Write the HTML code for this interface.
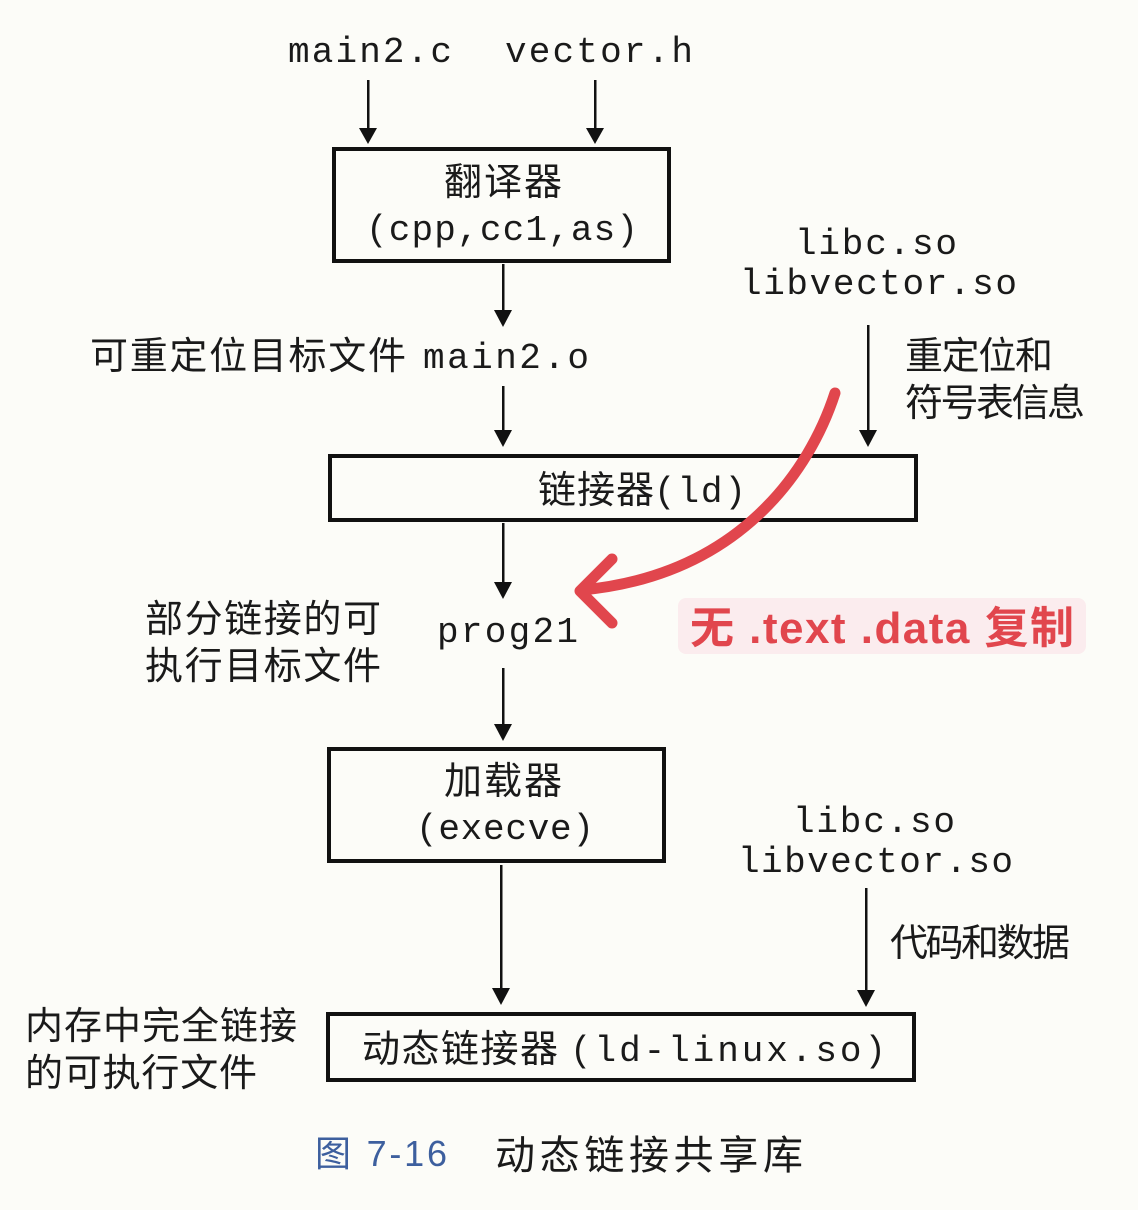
<!DOCTYPE html>
<html><head><meta charset="utf-8"><style>
html,body{margin:0;padding:0;background:#fcfcf8;}
svg{display:block}
.m{font-family:"Liberation Mono",monospace;font-size:36px;fill:#1a1a1a}
.c{font-family:"Liberation Sans","Noto Sans CJK SC",sans-serif;font-size:38px;fill:#1a1a1a}
</style></head><body>
<svg width="1138" height="1210" viewBox="0 0 1138 1210" xmlns="http://www.w3.org/2000/svg">
<g fill="#111">
<rect x="367" y="80" width="2.5" height="52"/><path d="M359 128 L377 128 L368 144 z"/>
<rect x="594" y="80" width="2.5" height="52"/><path d="M586 128 L604 128 L595 144 z"/>
<rect x="502" y="264" width="2.5" height="50"/><path d="M494 310 L512 310 L503 327 z"/>
<rect x="502" y="386" width="2.5" height="48"/><path d="M494 430 L512 430 L503 447 z"/>
<rect x="867" y="325" width="2.5" height="110"/><path d="M859 430 L877 430 L868 447 z"/>
<rect x="502" y="523" width="2.5" height="62"/><path d="M494 582 L512 582 L503 599 z"/>
<rect x="502" y="668" width="2.5" height="60"/><path d="M494 724 L512 724 L503 741 z"/>
<rect x="500" y="865" width="2.5" height="125"/><path d="M492 988 L510 988 L501 1005 z"/>
<rect x="865" y="888" width="2.5" height="103"/><path d="M857 990 L875 990 L866 1007 z"/>
</g>
<g fill="none" stroke="#111" stroke-width="4">
<rect x="334" y="149" width="335" height="112"/>
<rect x="330" y="456" width="586" height="64"/>
<rect x="329" y="749" width="335" height="112"/>
<rect x="328" y="1014" width="586" height="66"/>
</g>
<text class="m" x="288" y="62" textLength="164">main2.c</text>
<text class="m" x="505" y="62" textLength="188">vector.h</text>
<text class="c" x="444" y="195" textLength="118">翻译器</text>
<text class="m" x="366" y="240" textLength="272">(cpp,cc1,as)</text>
<text class="m" x="795" y="254" textLength="162">libc.so</text>
<text class="m" x="740" y="294" textLength="277">libvector.so</text>
<text class="c" x="90" y="369" textLength="316">可重定位目标文件</text>
<text class="m" x="423" y="368" textLength="166">main2.o</text>
<text class="c" x="905" y="369" textLength="148">重定位和</text>
<text class="c" x="905" y="416" textLength="180">符号表信息</text>
<text class="c" x="538" y="503" textLength="116">链接器</text>
<text class="m" x="654" y="502" textLength="92">(ld)</text>
<text class="c" x="145" y="632" textLength="236">部分链接的可</text>
<text class="c" x="145" y="679" textLength="236">执行目标文件</text>
<text class="m" x="437" y="642" textLength="141">prog21</text>
<text class="c" x="444" y="794" textLength="118">加载器</text>
<text class="m" x="416" y="839" textLength="178">(execve)</text>
<text class="m" x="793" y="832" textLength="162">libc.so</text>
<text class="m" x="738" y="872" textLength="275">libvector.so</text>
<text class="c" x="890" y="956" textLength="180">代码和数据</text>
<text class="c" x="25" y="1039" textLength="272">内存中完全链接</text>
<text class="c" x="25" y="1086" textLength="232">的可执行文件</text>
<text class="c" x="362" y="1062" textLength="196">动态链接器</text>
<text class="m" x="570" y="1061" textLength="316">(ld-linux.so)</text>
<text x="315" y="1166" style="font-family:'Liberation Sans','Noto Sans CJK SC',sans-serif;font-size:36px;fill:#3d5f9e" textLength="132">图 7-16</text>
<text class="c" x="495" y="1169" style="font-size:40px" textLength="308">动态链接共享库</text>
<path d="M835 393 C810 470 740 575 582 590" fill="none" stroke="#e1464d" stroke-width="11" stroke-linecap="round"/>
<path d="M612 559 L580 591 L612 623" fill="none" stroke="#e1464d" stroke-width="11" stroke-linecap="round" stroke-linejoin="round"/>
<rect x="678" y="598" width="408" height="56" rx="8" fill="#fbecee"/>
<text x="690" y="643" style="font-family:'Liberation Sans','Noto Sans CJK SC',sans-serif;font-size:44px;font-weight:bold;fill:#e1464d" textLength="384">无 .text .data 复制</text>
</svg>
</body></html>
